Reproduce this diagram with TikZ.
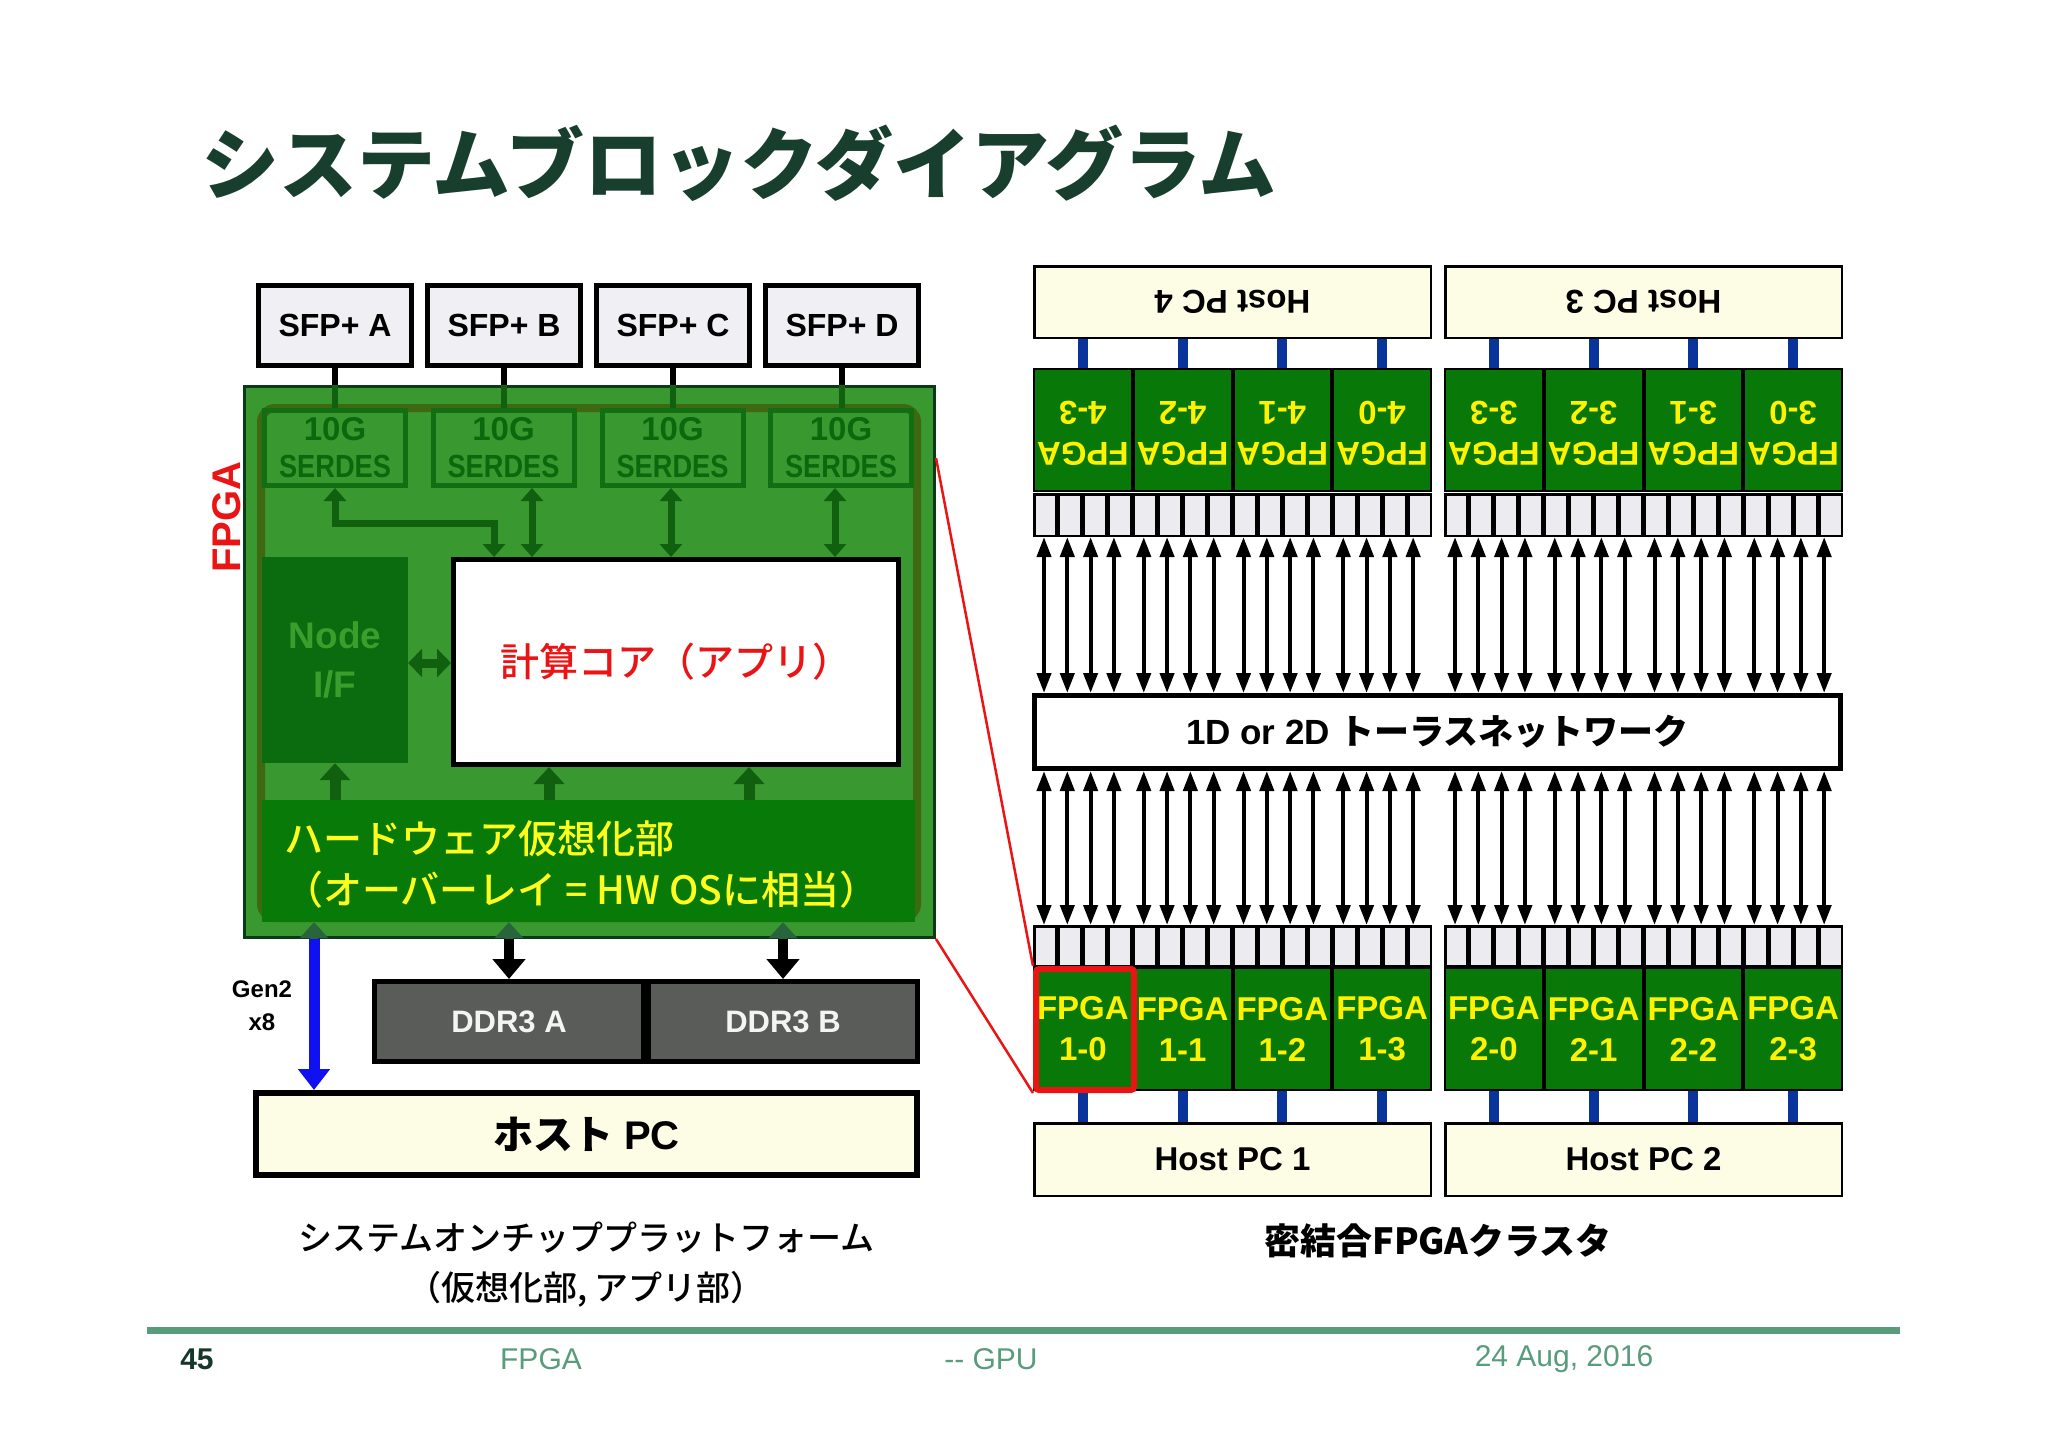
\documentclass[tikz,border=0pt]{standalone}
\usepackage{fontspec}
\setmainfont{Liberation Sans}
\newfontfamily\jp{Noto Sans CJK JP}
\newfontfamily\jpm{Noto Sans CJK JP Medium}
\newfontfamily\narrowsans[FakeStretch=0.85]{Liberation Sans}
\usetikzlibrary{arrows.meta}
\newcommand\fsz[2]{\fontsize{#1}{#2}\selectfont}
\definecolor{fpgagreen}{RGB}{58,152,48}
\definecolor{fpgaborder}{RGB}{12,58,22}
\definecolor{frameolive}{RGB}{62,104,18}
\definecolor{serdesline}{RGB}{18,110,18}
\definecolor{serdestext}{RGB}{12,104,12}
\definecolor{garrowc}{RGB}{16,96,16}
\definecolor{nodeiffill}{RGB}{10,108,14}
\definecolor{nodeiftext}{RGB}{58,158,44}
\definecolor{hwfill}{RGB}{8,122,8}
\definecolor{hwtext}{RGB}{255,255,30}
\definecolor{sfpfill}{RGB}{240,240,244}
\definecolor{ddrfill}{RGB}{90,92,90}
\definecolor{hostfill}{RGB}{253,253,230}
\definecolor{cellfill}{RGB}{8,120,8}
\definecolor{portfill}{RGB}{236,236,240}
\definecolor{blueconc}{RGB}{8,52,156}
\definecolor{bluearr}{RGB}{16,16,240}
\definecolor{hlred}{RGB}{235,20,20}
\definecolor{titlec}{RGB}{24,62,46}
\definecolor{footc}{RGB}{88,156,124}
\definecolor{footdark}{RGB}{22,56,42}
\definecolor{hiddenhead}{RGB}{40,100,60}
\begin{document}
\begin{tikzpicture}[x=1pt,y=-1pt,
  sfp/.style={draw=black, line width=5pt, fill=sfpfill, minimum width=153pt, minimum height=80pt, inner sep=0pt, font=\bfseries\fsz{32}{38}},
  serdes/.style={draw=serdesline, line width=5pt, minimum width=141pt, minimum height=75pt, inner sep=0pt, align=center, text=serdestext, font=\bfseries\fsz{33}{37}},
  garrow/.style={draw=garrowc, line width=7pt, {Triangle[width=22pt,length=13pt]}-{Triangle[width=22pt,length=13pt]}},
  garrowup/.style={draw=garrowc, line width=11pt, -{Triangle[width=30pt,length=17pt]}},
  ddr/.style={draw=black, line width=5pt, fill=ddrfill, minimum width=269pt, minimum height=80pt, inner sep=0pt, text={rgb,255:red,244;green,244;blue,244}, font=\bfseries\fsz{31}{37}},
  barrow/.style={draw=black, line width=10pt, -{Triangle[width=32pt,length=20pt]}},
  hostr/.style={draw=black, line width=2.5pt, fill=hostfill, minimum width=396.5pt, minimum height=71.5pt, inner sep=0pt, font=\bfseries\fsz{33}{40}},
  fpgacell/.style={draw=black, line width=2pt, fill=cellfill, minimum width=97.75pt, minimum height=122pt, inner sep=0pt, align=center, text=yellow, font=\bfseries\fsz{33}{41}},
  port/.style={draw=black, line width=2.5pt, fill=portfill, minimum width=22.44pt, inner sep=0pt},
  bluecon/.style={draw=blueconc, line width=10pt},
  tarrow/.style={draw=black, line width=4pt, {Triangle[width=14pt,length=20pt]}-{Triangle[width=14pt,length=20pt]}},
  redline/.style={draw=hlred, line width=2.5pt}
]
\useasboundingbox (0,0) rectangle (2048,1448);
\fill[white] (0,0) rectangle (2048,1448);

% title
\node[anchor=west, inner sep=0pt, text=titlec, font={\jp\bfseries\fsz{78}{90}}] (title) at (201,163) {システムブロックダイアグラム};

% ===== left panel =====
\node[draw=fpgaborder, line width=3pt, fill=fpgagreen, minimum width=690pt, minimum height=551pt, inner sep=0pt] (fpga) at (589.5,662) {};
\node[draw=frameolive, line width=8pt, rounded corners=14pt, minimum width=656pt, minimum height=510pt, inner sep=0pt] (frame) at (589,663) {};
\node[rotate=90, text=hlred, font=\bfseries\fsz{40}{48}] (fpgalbl) at (227,517) {FPGA};

\node[serdes] (serA) at (335,448) {10G\\{\narrowsans\fsz{32}{37}SERDES}};
\node[serdes] (serB) at (503.5,448) {10G\\{\narrowsans\fsz{32}{37}SERDES}};
\node[serdes] (serC) at (672.5,448) {10G\\{\narrowsans\fsz{32}{37}SERDES}};
\node[serdes] (serD) at (841,448) {10G\\{\narrowsans\fsz{32}{37}SERDES}};

\node[fill=nodeiffill, minimum width=146pt, minimum height=206pt, inner sep=0pt, align=center, text=nodeiftext, font=\bfseries\fsz{37}{49}] (nodeif) at (335,660) {Node\\I/F};
\node[draw=black, line width=5pt, fill=white, minimum width=445pt, minimum height=205pt, inner sep=0pt, text=hlred, font={\jpm\fsz{39}{46}}] (core) at (676,662) {計算コア（アプリ）};
\node[fill=hwfill, minimum width=653pt, minimum height=122pt, inner sep=0pt] (hw) at (588.5,861) {};
\node[anchor=west, inner sep=0pt, align=left, text=hwtext, font={\jpm\fsz{39}{51}}] (hwlbl) at (284,864) {ハードウェア仮想化部\\（オーバーレイ = HW OSに相当）};

% internal arrows
\coordinate (ja) at (494,523);
\draw[garrow] (serA.south) |- (ja) -- (ja |- core.north);
\draw[garrow] (serB.south -| 532,0) -- (core.north -| 532,0);
\draw[garrow] (serC.south -| 671,0) -- (core.north -| 671,0);
\draw[garrow] (serD.south -| 835,0) -- (core.north -| 835,0);
\draw[draw=garrowc, line width=9pt, {Triangle[width=28pt,length=14pt]}-{Triangle[width=28pt,length=14pt]}] (nodeif.east |- 0,663) -- (core.west |- 0,663);
\draw[garrowup] (hw.north -| nodeif.south) -- (nodeif.south);
\draw[garrowup] (hw.north -| 549,0) -- (core.south -| 549,0);
\draw[garrowup] (hw.north -| 749,0) -- (core.south -| 749,0);

% SFP
\node[sfp] (sfpA) at (335,325.5) {SFP+ A};
\node[sfp] (sfpB) at (504,325.5) {SFP+ B};
\node[sfp] (sfpC) at (673,325.5) {SFP+ C};
\node[sfp] (sfpD) at (842,325.5) {SFP+ D};
\foreach \s/\t in {sfpA/serA,sfpB/serB,sfpC/serC,sfpD/serD}{
  \draw[line width=6pt, black] (\s.south) -- (\s.south |- fpga.north);
  \draw[line width=6pt, garrowc] (\s.south |- fpga.north) -- (\s.south |- \t.north);
}

% DDR and host
\node[ddr] (ddrA) at (509,1021.5) {DDR3 A};
\node[ddr] (ddrB) at (783,1021.5) {DDR3 B};
\node[draw=black, line width=6pt, fill=hostfill, minimum width=661pt, minimum height=82pt, inner sep=0pt, font=\bfseries\fsz{40}{48}] (hpc) at (586.5,1134) {{\jpm ホスト} PC};
\foreach \x in {314,509,783}{
  \draw[draw=hiddenhead, line width=8pt, -{Triangle[width=28pt,length=16pt]}] (fpga.south -| \x,0) -- (hw.south -| \x,0);
}
\draw[barrow] (fpga.south -| ddrA.north) -- (ddrA.north);
\draw[barrow] (fpga.south -| ddrB.north) -- (ddrB.north);
\draw[draw=bluearr, line width=11pt, -{Triangle[width=31pt,length=21pt]}] (fpga.south -| 314,0) -- (hpc.north -| 314,0);
\node[align=center, font=\bfseries\fsz{24}{33}] (gen) at (262,1006) {Gen2\\x8};

\node[align=center, font={\jpm\fsz{34}{50}}] (cap1) at (586,1265) {システムオンチッププラットフォーム\\（仮想化部, アプリ部）};

% ===== right panel =====
\node[hostr] (hT-0) at (1232.5,302) {\rotatebox[origin=c]{180}{Host PC 4}};
\node[hostr] (hT-1) at (1643.5,302) {\rotatebox[origin=c]{180}{Host PC 3}};
\node[hostr, minimum height=72.5pt] (hB-0) at (1232.5,1159.5) {Host PC 1};
\node[hostr, minimum height=72.5pt] (hB-1) at (1643.5,1159.5) {Host PC 2};

\foreach \g/\G in {0/1033,1/1444}{
  \foreach \i in {0,...,15}{
    \pgfmathsetmacro\cx{\G+24.9375*(\i+0.5)}
    \node[port, minimum height=41.5pt] (ptT-\g-\i) at (\cx,515) {};
    \node[port, minimum height=39.5pt] (ptB-\g-\i) at (\cx,946) {};
  }
}

\foreach \g/\G/\tn/\bn in {0/1033/4/1,1/1444/3/2}{
  \foreach \k in {0,...,3}{
    \pgfmathsetmacro\cx{\G+99.75*(\k+0.5)}
    \pgfmathtruncatemacro\r{3-\k}
    \node[fpgacell] (fT-\g-\k) at (\cx,430) {\rotatebox[origin=c]{180}{\begin{tabular}{@{}c@{}}FPGA\\\tn-\r\end{tabular}}};
    \node[fpgacell] (fB-\g-\k) at (\cx,1029) {FPGA\\\bn-\k};
    \draw[bluecon] (fT-\g-\k.north) -- (fT-\g-\k.north |- hT-\g.south);
    \draw[bluecon] (fB-\g-\k.south) -- (fB-\g-\k.south |- hB-\g.north);
  }
}

\node[draw=black, line width=5pt, fill=white, minimum width=806pt, minimum height=73pt, inner sep=0pt, font=\bfseries\fsz{35}{42}] (torus) at (1437.5,732) {1D or 2D {\jpm トーラスネットワーク}};

\foreach \g/\G in {0/1033,1/1444}{
  \foreach \k in {0,...,3}{
    \foreach \j in {0,...,3}{
      \pgfmathsetmacro\ax{\G+99.75*\k+11+23.3*\j}
      \draw[tarrow] (ptT-0-0.south -| \ax,0) -- (torus.north -| \ax,0);
      \draw[tarrow] (torus.south -| \ax,0) -- (ptB-0-0.north -| \ax,0);
    }
  }
}

% highlight
\node[draw=hlred, line width=6pt, rounded corners=3pt, minimum width=98pt, minimum height=121pt, inner sep=0pt] (hl) at (1085,1029.5) {};
\coordinate (rl1) at (936,458);
\draw[redline] (rl1) -- (hl.north west);
\draw[redline] (fpga.south east) -- (hl.south west);

\node[font={\jp\bfseries\fsz{36}{40}}] (cap2) at (1438,1241) {密結合FPGAクラスタ};

% footer
\coordinate (fl) at (147,1330);
\coordinate (fr) at (1900,1330);
\draw[line width=7pt, footc] (fl) -- (fr);
\node[text=footdark, font=\bfseries\fsz{30}{36}] (pg) at (197,1359) {45};
\node[text=footc, font=\fsz{30}{36}] (ft1) at (541,1359) {FPGA};
\node[text=footc, font=\fsz{30}{36}] (ft2) at (991,1359) {{-}{-} GPU};
\node[text=footc, font=\fsz{30}{36}] (ft3) at (1564,1359) {24 Aug, 2016};
\end{tikzpicture}
\end{document}
